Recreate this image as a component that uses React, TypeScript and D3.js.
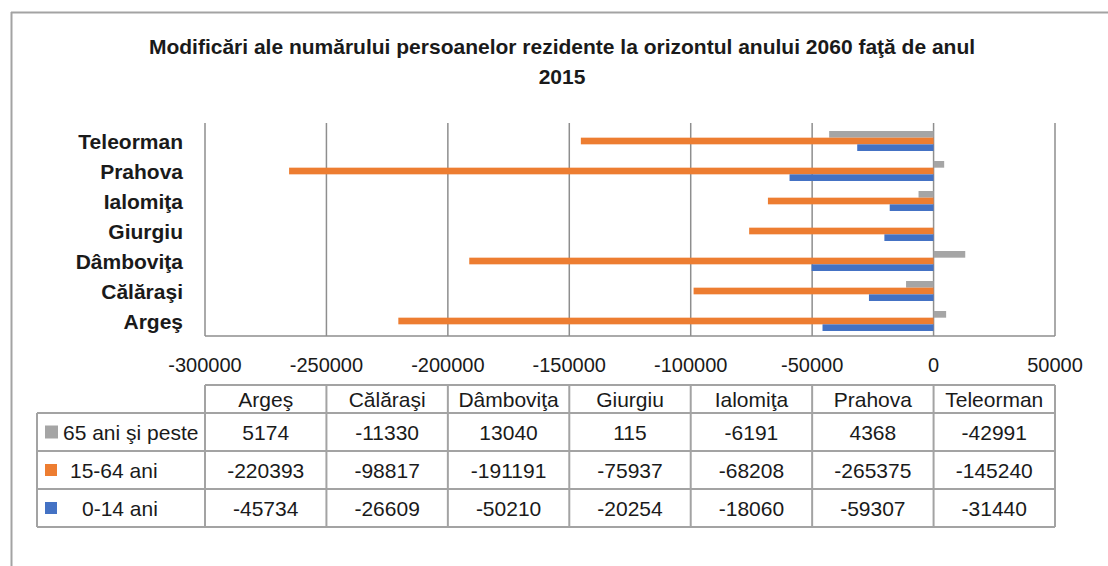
import React from "react";
import * as d3 from "d3";

const title1 = "Modificări ale numărului persoanelor rezidente la orizontul anului 2060 faţă de anul";
const title2 = "2015";
const categories = ["Argeş", "Călăraşi", "Dâmboviţa", "Giurgiu", "Ialomiţa", "Prahova", "Teleorman"];
const seriesNames = ["65 ani şi peste", "15-64 ani", "0-14 ani"];
const seriesColors = ["#a5a5a5", "#ed7d31", "#4472c4"];
const s65 = [5174, -11330, 13040, 115, -6191, 4368, -42991];
const s1564 = [-220393, -98817, -191191, -75937, -68208, -265375, -145240];
const s014 = [-45734, -26609, -50210, -20254, -18060, -59307, -31440];
const seriesValues = [s65, s1564, s014];
const xTicks = [-300000, -250000, -200000, -150000, -100000, -50000, 0, 50000];
const legendTextX = [63, 70, 82];
const legendSquare = [13, 12, 12];

const FONT = "'Liberation Sans', Arial, sans-serif";
const GRID = "#8e8e8e";
const BORDER = "#a3a3a3";

export default function App() {
  const x = d3.scaleLinear().domain([-300000, 50000]).range([205, 1055]);
  const yTopDown = [...categories].reverse();
  const y = d3.scaleBand<string>().domain(yTopDown).range([126, 336]);
  const inner = d3
    .scaleBand<string>()
    .domain(seriesNames)
    .range([0, y.bandwidth()])
    .paddingInner(0)
    .paddingOuter(0.75);

  const colW = (x(50000) - x(-300000)) / categories.length;
  const tableLeft = x(-300000);
  const headerTop = 385;
  const rowTop = 413;
  const rowH = 38;
  const tableBottom = rowTop + rowH * 3;
  const legendLeft = 37;

  return (
    <svg
      width={1108}
      height={566}
      style={{ position: "absolute", left: 0, top: 0, background: "#fff" }}
      fontFamily={FONT}
    >
      <rect x={0} y={0} width={1108} height={566} fill="#fff" />
      {/* frame */}
      <line x1={11} y1={12.5} x2={1108} y2={12.5} stroke={BORDER} strokeWidth={2} />
      <line x1={11.5} y1={12} x2={11.5} y2={566} stroke={BORDER} strokeWidth={2} />

      {/* title */}
      <text x={562} y={54} textAnchor="middle" fontWeight="bold" fontSize={21} fill="#1a1a1a">
        {title1}
      </text>
      <text x={562} y={84} textAnchor="middle" fontWeight="bold" fontSize={21} fill="#1a1a1a">
        {title2}
      </text>

      {/* gridlines */}
      {xTicks.map((t) => (
        <line key={"g" + t} x1={x(t)} x2={x(t)} y1={123} y2={336} stroke={GRID} strokeWidth={1.5} />
      ))}
      <line x1={x(-300000)} x2={x(50000)} y1={336} y2={336} stroke={GRID} strokeWidth={1.5} />

      {/* bars */}
      {categories.map((c, ci) =>
        seriesNames.map((s, si) => {
          const v = seriesValues[si][ci];
          const x0 = Math.min(x(0), x(v));
          const w = Math.abs(x(v) - x(0));
          return (
            <rect
              key={c + s}
              x={x0}
              y={(y(c) ?? 0) + (inner(s) ?? 0)}
              width={w}
              height={inner.bandwidth()}
              fill={seriesColors[si]}
            />
          );
        })
      )}

      {/* category labels */}
      {categories.map((c) => (
        <text
          key={"l" + c}
          x={183}
          y={(y(c) ?? 0) + y.bandwidth() / 2 + 7.5}
          textAnchor="end"
          fontWeight="bold"
          fontSize={21}
          fill="#1a1a1a"
        >
          {c}
        </text>
      ))}

      {/* tick labels */}
      {xTicks.map((t) => (
        <text key={"t" + t} x={x(t)} y={372} textAnchor="middle" fontSize={20} fill="#1a1a1a">
          {String(t)}
        </text>
      ))}

      {/* data table */}
      <g stroke={BORDER} strokeWidth={2} fill="none">
        <line x1={tableLeft} x2={x(50000)} y1={headerTop} y2={headerTop} />
        {[0, 1, 2, 3].map((r) => (
          <line key={"rl" + r} x1={legendLeft} x2={x(50000)} y1={rowTop + r * rowH} y2={rowTop + r * rowH} />
        ))}
        <line x1={legendLeft} x2={legendLeft} y1={rowTop} y2={tableBottom} />
        {d3.range(categories.length + 1).map((i) => (
          <line
            key={"cl" + i}
            x1={tableLeft + i * colW}
            x2={tableLeft + i * colW}
            y1={headerTop}
            y2={tableBottom}
          />
        ))}
      </g>
      {categories.map((c, i) => (
        <text
          key={"h" + c}
          x={tableLeft + (i + 0.5) * colW}
          y={headerTop + (rowTop - headerTop) / 2 + 7.5}
          textAnchor="middle"
          fontSize={21}
          fill="#1a1a1a"
        >
          {c}
        </text>
      ))}
      {seriesNames.map((s, si) => {
        const cy = rowTop + (si + 0.5) * rowH;
        const sq = legendSquare[si];
        return (
          <g key={"row" + s}>
            <rect x={45} y={cy - sq / 2} width={sq} height={sq} fill={seriesColors[si]} />
            <text x={legendTextX[si]} y={cy + 7.5} fontSize={21} fill="#1a1a1a">
              {s}
            </text>
            {categories.map((c, ci) => (
              <text
                key={"v" + c}
                x={tableLeft + (ci + 0.5) * colW}
                y={cy + 7.5}
                textAnchor="middle"
                fontSize={21}
                fill="#1a1a1a"
              >
                {String(seriesValues[si][ci])}
              </text>
            ))}
          </g>
        );
      })}
    </svg>
  );
}
